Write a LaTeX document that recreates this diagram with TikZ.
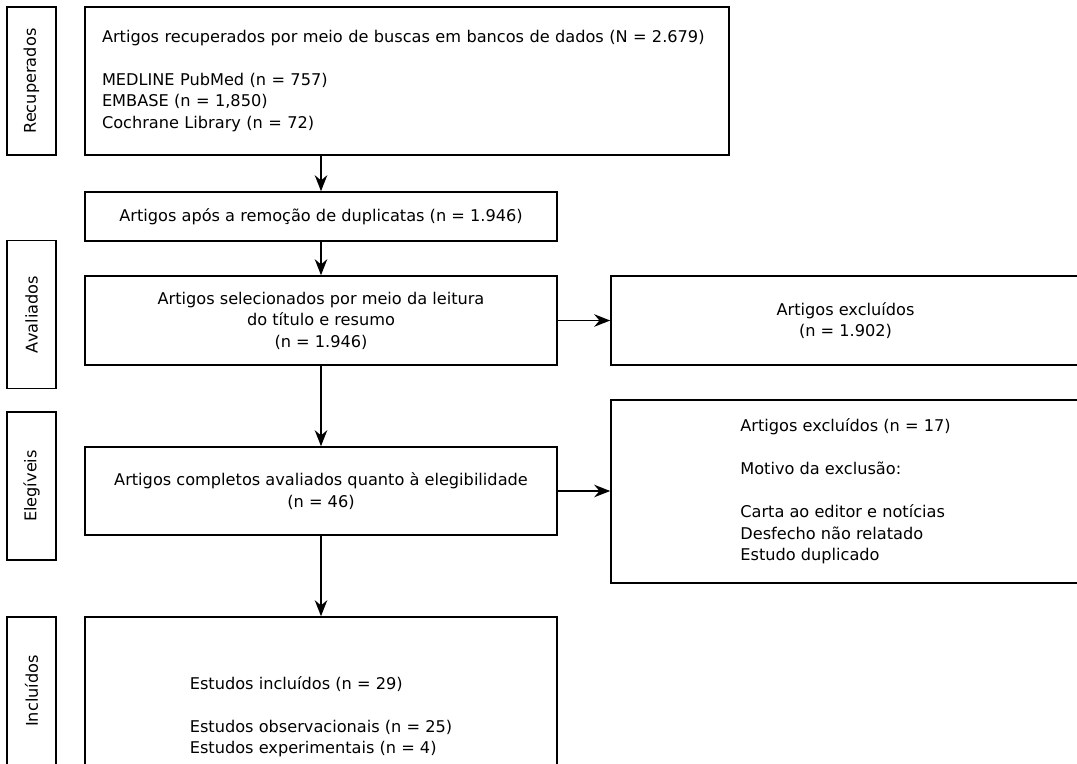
\documentclass[tikz,border=0pt]{standalone}
\usepackage{fontspec}
\setmainfont{DejaVu Sans}
\usetikzlibrary{calc,arrows.meta}

\begin{document}
\begin{tikzpicture}[line width=0.9pt,>={Stealth[length=3.2mm,width=2.5mm]},
  box/.style={draw,inner sep=0pt,font=\fontsize{9.2}{12.2}\selectfont},
  sidelabel/.style={draw,rotate=90,minimum width=2.96cm,minimum height=0.98cm,
    inner sep=0pt,font=\fontsize{9.2}{12.2}\selectfont}]
  \useasboundingbox (0,0) rectangle (21.54,-15.26);
  % ===== etapas (coluna da esquerda) =====
  \node[sidelabel] (recup) at (0.63,-1.62) {Recuperados};
  \node[sidelabel] (aval)  at (0.63,-6.29) {Avaliados};
  \node[sidelabel] (eleg)  at (0.63,-9.72) {Elegíveis};
  \node[sidelabel] (incl)  at (0.63,-13.82) {Incluídos};
  % ===== caixas principais =====
  \node[box,minimum width=12.88cm,minimum height=2.96cm,align=left,text width=12.2cm]
    (busca) at (8.14,-1.62) {Artigos recuperados por meio de buscas em bancos de dados (N = 2.679)\\[12.2pt]
    MEDLINE PubMed (n = 757)\\
    EMBASE (n = 1,850)\\
    Cochrane Library (n = 72)};
  \node[box,minimum width=9.44cm,minimum height=0.98cm]
    (dupl) at (6.42,-4.33) {Artigos após a remoção de duplicatas (n = 1.946)};
  \node[box,minimum width=9.44cm,minimum height=1.78cm,align=center]
    (selec) at (6.42,-6.41) {Artigos selecionados por meio da leitura\\do título e resumo\\(n = 1.946)};
  \node[box,minimum width=9.44cm,minimum height=1.76cm,align=center]
    (compl) at (6.42,-9.82) {Artigos completos avaliados quanto à elegibilidade\\(n = 46)};
  \node[box,minimum width=9.44cm,minimum height=4cm,align=left]
    (final) at (6.42,-14.34) {Estudos incluídos (n = 29)\\[12.2pt]
    Estudos observacionais (n = 25)\\
    Estudos experimentais (n = 4)};
  % ===== exclusoes (coluna da direita) =====
  \node[box,minimum width=9.38cm,minimum height=1.78cm,align=center]
    (excl1) at (16.91,-6.41) {Artigos excluídos\\(n = 1.902)};
  \node[box,minimum width=9.38cm,minimum height=3.66cm,align=left]
    (excl2) at (16.91,-9.83) {Artigos excluídos (n = 17)\\[12.2pt]
    Motivo da exclusão:\\[12.2pt]
    Carta ao editor e notícias\\
    Desfecho não relatado\\
    Estudo duplicado};
  % ===== setas =====
  \draw[->] (dupl.north |- busca.south) -- (dupl.north);
  \draw[->] (dupl) -- (selec);
  \draw[->] (selec) -- (compl);
  \draw[->] (compl) -- (final);
  \draw[->] (selec) -- (excl1);
  \draw[->] (compl.east) -- (compl.east -| excl2.west);
\end{tikzpicture}
\end{document}
